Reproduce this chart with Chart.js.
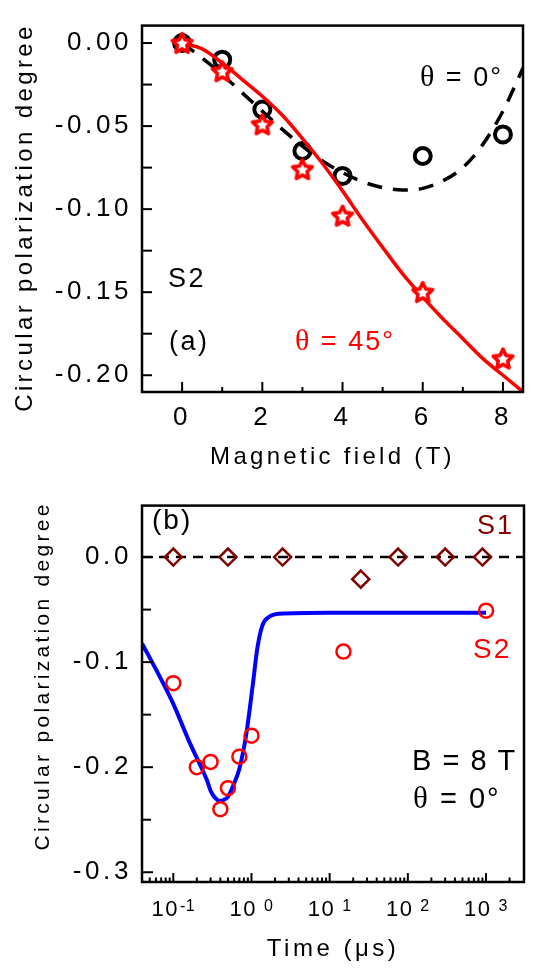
<!DOCTYPE html>
<html><head><meta charset="utf-8">
<script src="https://cdn.jsdelivr.net/npm/chart.js@4.4.1/dist/chart.umd.min.js"></script>
<style>
html,body{margin:0;padding:0;background:#fff;}
#wrapA{position:absolute;left:0;top:0;width:535px;height:480px;}
#wrapB{position:absolute;left:0;top:480px;width:535px;height:493px;}
canvas{display:block;}
</style></head><body>
<div id="wrapA"><canvas id="cA" width="535" height="480"></canvas></div>
<div id="wrapB"><canvas id="cB" width="535" height="493"></canvas></div>
<script>
// ---------- Panel (a): circular polarization vs magnetic field ----------
const fieldT = [0, 1, 2, 3, 4, 6, 8];
const cpdTheta0 = [0.000, -0.010, -0.040, -0.065, -0.080, -0.068, -0.055];
const cpdTheta45 = [0.000, -0.017, -0.049, -0.076, -0.104, -0.150, -0.190];
const fitField = [0, 0.5, 1, 1.5, 2, 2.5, 3, 3.5, 4, 4.5, 5, 5.5, 6, 6.5, 7, 7.5, 8, 8.5];
const fitTheta0Cpd = [0, -0.009, -0.019, -0.030, -0.041, -0.052, -0.062, -0.071, -0.078, -0.0835, -0.087, -0.0885, -0.0875, -0.083, -0.075, -0.061, -0.041, -0.015];
const fitTheta45Cpd = [0, -0.0035, -0.012, -0.022, -0.032, -0.0435, -0.0575, -0.0725, -0.089, -0.1065, -0.123, -0.139, -0.153, -0.166, -0.178, -0.190, -0.200, -0.210];
const fieldTicks = [0, 1, 2, 3, 4, 5, 6, 7, 8];
const fieldTickLabels = ['0', '', '2', '', '4', '', '6', '', '8'];
const cpdTicksA = [0, -0.025, -0.05, -0.075, -0.1, -0.125, -0.15, -0.175, -0.2];
const cpdTickLabelsA = ['0.00', '', '-0.05', '', '-0.10', '', '-0.15', '', '-0.20'];

// ---------- Panel (b): circular polarization vs time ----------
const timeS1 = [0.1, 0.5, 2.5, 25, 75, 300, 900];
const cpdS1 = [0, 0, 0, -0.021, 0, 0, 0];
const timeS2 = [0.1, 0.2, 0.3, 0.4, 0.5, 0.7, 1.0, 15, 1000];
const cpdS2 = [-0.120, -0.200, -0.195, -0.240, -0.220, -0.190, -0.170, -0.090, -0.051];
const fitS2Time = [0.0398, 0.0617, 0.1, 0.1626, 0.265, 0.305, 0.35, 0.39, 0.44, 0.497, 0.58, 0.699, 0.849, 1.03, 1.19, 1.38, 1.67, 2.24, 10, 100, 1000];
const fitS2Cpd = [-0.0822, -0.1086, -0.1397, -0.1769, -0.2111, -0.2235, -0.2300, -0.2320, -0.2312, -0.2285, -0.2180, -0.2017, -0.1707, -0.124, -0.0866, -0.065, -0.0571, -0.054, -0.053, -0.053, -0.053];
const zeroLineTime = [0.0398, 3060];
const zeroLineCpd = [0, 0];
const timeDecades = [-1, 0, 1, 2, 3];
const timeMultipliers = [1, 2, 3, 4, 5, 6, 7, 8, 9];
const cpdTicksB = [0, -0.05, -0.1, -0.15, -0.2, -0.25, -0.3];
const cpdTickLabelsB = ['0.0', '', '-0.1', '', '-0.2', '', '-0.3'];

const SANS = '"Liberation Sans", Arial, sans-serif';
const SERIF = '"Liberation Serif", "Times New Roman", serif';
Chart.defaults.font.family = SANS;
Chart.defaults.color = '#000';

function pts(xs, ys) { return xs.map((x, i) => ({ x: x, y: ys[i] })); }

function makeStar() {
  const c = document.createElement('canvas');
  c.width = 30; c.height = 30;
  const g = c.getContext('2d');
  const R = 10.3, r = 5.0, cx = 15, cy = 15.8;
  g.beginPath();
  for (let i = 0; i < 10; i++) {
    const a = -Math.PI / 2 + i * Math.PI / 5;
    const rad = (i % 2) ? r : R;
    g.lineTo(cx + rad * Math.cos(a), cy + rad * Math.sin(a));
  }
  g.closePath();
  g.fillStyle = '#ffffff'; g.fill();
  g.lineJoin = 'round'; g.strokeStyle = '#ff0000'; g.lineWidth = 3.6; g.stroke();
  return c;
}

function wrapTitle(s, sp) {
  if (!s.__wrapped) {
    const orig = s.drawTitle;
    s.drawTitle = function () { this.ctx.save(); this.ctx.letterSpacing = sp; orig.apply(this, arguments); this.ctx.restore(); };
    s.__wrapped = true;
  }
}

function drawParts(ctx, note) {
  ctx.save();
  ctx.fillStyle = note.color;
  ctx.textAlign = 'left';
  ctx.textBaseline = 'alphabetic';
  ctx.letterSpacing = note.spacing + 'px';
  let x = note.x;
  note.parts.forEach(p => {
    ctx.font = p[1];
    ctx.fillText(p[0], x, note.y);
    x += ctx.measureText(p[0]).width;
  });
  ctx.restore();
}

function makeDecor(cfg) {
  return {
    id: 'decor' + cfg.name,
    beforeDraw(chart) { chart.ctx.letterSpacing = cfg.tickSpacing + 'px'; },
    afterDraw(chart) {
      const ctx = chart.ctx, ca = chart.chartArea, xs = chart.scales.x, ys = chart.scales.y;
      ctx.save();
      ctx.letterSpacing = '0px';
      ctx.strokeStyle = '#000';
      ctx.lineWidth = 2;
      xs.ticks.forEach(t => {
        const p = xs.getPixelForValue(t.value);
        if (p < ca.left + 1 || p > ca.right - 1) return;
        const len = t.major ? cfg.xMajor : cfg.xMinor;
        ctx.beginPath(); ctx.moveTo(p, ca.bottom); ctx.lineTo(p, ca.bottom - len); ctx.stroke();
      });
      ys.ticks.forEach(t => {
        const p = ys.getPixelForValue(t.value);
        const len = t.major ? cfg.yMajor : cfg.yMinor;
        ctx.beginPath(); ctx.moveTo(ca.left, p); ctx.lineTo(ca.left + len, p); ctx.stroke();
      });
      ctx.lineWidth = 2.5;
      ctx.strokeRect(ca.left, ca.top, ca.right - ca.left, ca.bottom - ca.top);
      // y-axis title
      ctx.save();
      ctx.translate(cfg.yTitle.x, cfg.yTitle.y);
      ctx.rotate(-Math.PI / 2);
      ctx.textAlign = 'center'; ctx.textBaseline = 'middle';
      ctx.font = cfg.yTitle.size + 'px ' + SANS;
      ctx.letterSpacing = cfg.yTitle.spacing + 'px';
      ctx.fillStyle = '#000';
      ctx.fillText(cfg.yTitle.text, 0, 0);
      ctx.restore();
      if (cfg.logLabels) cfg.logLabels(chart);
      cfg.notes.forEach(n => drawParts(ctx, n));
      ctx.restore();
    }
  };
}

// ---------------- Chart A ----------------
const starImg = makeStar();
const noteA = [
  { x: 420, y: 86, color: '#000', spacing: 2, parts: [['θ', '30px ' + SERIF], [' = 0°', '27px ' + SANS]] },
  { x: 168, y: 287, color: '#000', spacing: 2.5, parts: [['S2', '27px ' + SANS]] },
  { x: 169, y: 350, color: '#000', spacing: 2.5, parts: [['(a)', '27px ' + SANS]] },
  { x: 295, y: 350, color: '#ff0000', spacing: 2, parts: [['θ', '30px ' + SERIF], [' = 45°', '27px ' + SANS]] }
];

new Chart(document.getElementById('cA'), {
  type: 'scatter',
  data: {
    datasets: [
      { label: 'θ = 45°', data: pts(fieldT, cpdTheta45), pointStyle: starImg, pointRadius: 10, showLine: false, order: 0 },
      { label: 'θ = 45° fit', data: pts(fitField, fitTheta45Cpd), showLine: true, borderColor: '#ff0000', borderWidth: 3.5, pointRadius: 0, cubicInterpolationMode: 'monotone', order: 1 },
      { label: 'θ = 0°', data: pts(fieldT, cpdTheta0), pointStyle: 'circle', pointRadius: 8, borderWidth: 4, borderColor: '#000', backgroundColor: 'rgba(0,0,0,0)', showLine: false, order: 2 },
      { label: 'θ = 0° fit', data: pts(fitField, fitTheta0Cpd), showLine: true, borderColor: '#000', borderWidth: 3.5, borderDash: [15, 11], pointRadius: 0, cubicInterpolationMode: 'monotone', order: 3 }
    ]
  },
  options: {
    responsive: false, animation: false, devicePixelRatio: 1,
    layout: { padding: { top: 5, right: 7, bottom: 0, left: 0 } },
    plugins: { legend: { display: false }, tooltip: { enabled: false } },
    scales: {
      x: {
        type: 'linear', min: -1, max: 8.5,
        afterBuildTicks: s => { s.ticks = fieldTicks.map(v => ({ value: v, major: v % 2 === 0 })); },
        afterFit: s => { s.height = 88; wrapTitle(s, '3.3px'); },
        ticks: { callback: (v, i) => fieldTickLabels[i], font: { size: 26 }, color: '#000', padding: 10, autoSkip: false, maxRotation: 0 },
        grid: { display: false, drawTicks: false }, border: { display: false },
        title: { display: true, text: 'Magnetic field (T)', font: { size: 24 }, color: '#000', padding: { top: 0, bottom: 8 } }
      },
      y: {
        type: 'linear', min: -0.2101, max: 0.0105,
        afterBuildTicks: s => { s.ticks = cpdTicksA.map((v, i) => ({ value: v, major: cpdTickLabelsA[i] !== '' })); },
        afterFit: s => { s.width = 142; },
        ticks: { callback: (v, i) => cpdTickLabelsA[i], font: { size: 26 }, color: '#000', padding: 10, autoSkip: false },
        grid: { display: false, drawTicks: false }, border: { display: false }
      }
    }
  },
  plugins: [makeDecor({
    name: 'A', tickSpacing: 3.6, xMajor: 10, xMinor: 5, yMajor: 10, yMinor: 10,
    yTitle: { text: 'Circular polarization degree', x: 25, y: 217.5, size: 24, spacing: 3.4 },
    notes: noteA
  })]
});

// ---------------- Chart B ----------------
const noteB = [
  { x: 152, y: 49, color: '#000', spacing: 2, parts: [['(b)', '28px ' + SANS]] },
  { x: 477, y: 54, color: '#800000', spacing: 2, parts: [['S1', '27px ' + SANS]] },
  { x: 473, y: 177.5, color: '#ff0000', spacing: 2, parts: [['S2', '28px ' + SANS]] },
  { x: 412, y: 290, color: '#000', spacing: 1.5, parts: [['B = 8 T', '29px ' + SANS]] },
  { x: 413, y: 328, color: '#000', spacing: 2, parts: [['θ', '31px ' + SERIF], [' = 0°', '29px ' + SANS]] }
];

function drawLogLabels(chart) {
  const ctx = chart.ctx, xs = chart.scales.x, ca = chart.chartArea;
  ctx.save();
  ctx.fillStyle = '#000';
  ctx.textAlign = 'left';
  ctx.textBaseline = 'alphabetic';
  timeDecades.forEach(n => {
    const px = xs.getPixelForValue(Math.pow(10, n));
    const exp = String(n);
    ctx.letterSpacing = '1.5px';
    ctx.font = '22px ' + SANS;
    const wb = ctx.measureText('10').width;
    ctx.letterSpacing = '0.5px';
    ctx.font = '16px ' + SANS;
    const we = ctx.measureText(exp).width;
    const gap = n < 0 ? 1 : 7;
    const x0 = px - (wb + gap + we) / 2;
    ctx.letterSpacing = '1.5px';
    ctx.font = '22px ' + SANS;
    ctx.fillText('10', x0, ca.bottom + 34.4);
    ctx.letterSpacing = '0.5px';
    ctx.font = '16px ' + SANS;
    ctx.fillText(exp, x0 + wb + gap, ca.bottom + 28.7);
  });
  ctx.restore();
}

new Chart(document.getElementById('cB'), {
  type: 'scatter',
  data: {
    datasets: [
      { label: 'S1', data: pts(timeS1, cpdS1), pointStyle: 'rectRot', pointRadius: 8.5, borderWidth: 2.5, borderColor: '#800000', backgroundColor: 'rgba(0,0,0,0)', showLine: false, order: 0 },
      { label: 'S2', data: pts(timeS2, cpdS2), pointStyle: 'circle', pointRadius: 7, borderWidth: 2.5, borderColor: '#ff0000', backgroundColor: 'rgba(0,0,0,0)', showLine: false, order: 1 },
      { label: 'S2 fit', data: pts(fitS2Time, fitS2Cpd), showLine: true, borderColor: '#0000ff', borderWidth: 4, pointRadius: 0, cubicInterpolationMode: 'monotone', order: 2 },
      { label: 'zero', data: pts(zeroLineTime, zeroLineCpd), showLine: true, borderColor: '#000', borderWidth: 2.5, borderDash: [10, 7], pointRadius: 0, order: 3 }
    ]
  },
  options: {
    responsive: false, animation: false, devicePixelRatio: 1,
    layout: { padding: { top: 17, right: 7, bottom: 0, left: 0 } },
    plugins: { legend: { display: false }, tooltip: { enabled: false } },
    scales: {
      x: {
        type: 'logarithmic', min: 0.0398, max: 3060,
        afterBuildTicks: s => {
          const t = [];
          [-2].concat(timeDecades).forEach(n => timeMultipliers.forEach(k => {
            const v = k * Math.pow(10, n);
            if (v >= s.min && v <= s.max) t.push({ value: v, major: k === 1 });
          }));
          s.ticks = t;
        },
        afterFit: s => { s.height = 91; wrapTitle(s, '3.5px'); },
        ticks: { display: false, autoSkip: false },
        grid: { display: false, drawTicks: false }, border: { display: false },
        title: { display: true, text: 'Time (μs)', font: { size: 24 }, color: '#000', padding: { top: 0, bottom: 9.6 } }
      },
      y: {
        type: 'linear', min: -0.3093, max: 0.049,
        afterBuildTicks: s => { s.ticks = cpdTicksB.map((v, i) => ({ value: v, major: cpdTickLabelsB[i] !== '' })); },
        afterFit: s => { s.width = 142; },
        ticks: { callback: (v, i) => cpdTickLabelsB[i], font: { size: 26 }, color: '#000', padding: 10, autoSkip: false },
        grid: { display: false, drawTicks: false }, border: { display: false }
      }
    }
  },
  plugins: [makeDecor({
    name: 'B', tickSpacing: 3.6, xMajor: 9, xMinor: 4.5, yMajor: 11, yMinor: 9,
    yTitle: { text: 'Circular polarization degree', x: 43, y: 195.8, size: 21, spacing: 3.3 },
    notes: noteB, logLabels: drawLogLabels
  })]
});
</script>
</body></html>
